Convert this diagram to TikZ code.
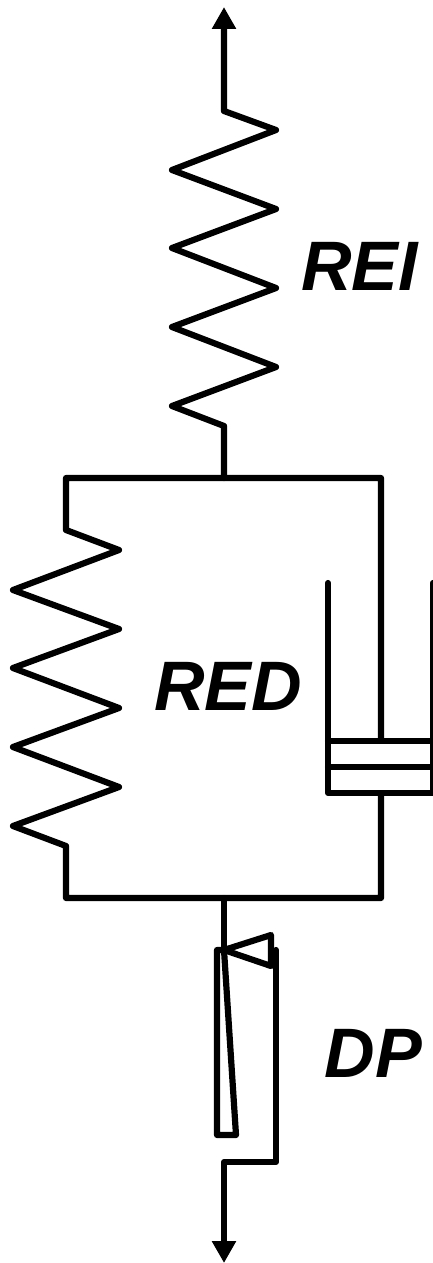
\documentclass[tikz,border=0pt]{standalone}
\usepackage{fontspec}
\setmainfont{Liberation Sans}
\usetikzlibrary{arrows.meta}
\begin{document}
\begin{tikzpicture}[line cap=round,line join=round,>={Triangle[length=22pt,width=23pt]},x=1pt,y=-1pt,line width=6.2pt,
  lbl/.style={anchor=base west,inner sep=0pt,font=\fontsize{70}{70}\selectfont\bfseries\itshape}]
\useasboundingbox (0,0) rectangle (433,1263);
\clip (0,0) rectangle (433,1263);
% upper spring
\draw [<-] (224,7)-- (224,111)-- (276,130)-- (172,170)-- (276,209)-- (172,248)-- (276,288)-- (172,327)-- (276,367)-- (172,406)-- (224,426)-- (224,478);
% parallel frame and lower spring
\draw (381,740)-- (381,478)-- (66,478)-- (66,530)-- (119,550)-- (13,590)-- (119,629)-- (13,668)-- (119,708)-- (13,747)-- (119,787)-- (13,826)-- (66,846)-- (66,898)-- (381,898)-- (381,795);
% dashpot
\draw (328,583)-- (328,793)-- (433,793)-- (433,583);
\draw (328,741)-- (433,741);
\draw (328,767)-- (433,767);
% plastic element
\draw (224,898)-- (224,950);
\draw (224,950)-- (271,935)-- (271,966)-- cycle;
\draw (224,950)-- (217,950)-- (217,1135)-- (236,1135)-- (224,950);
\draw [->] (276,950)-- (276,1162)-- (224,1162)-- (224,1263);
\node [lbl] (rei) at (298,290) {REI};
\node [lbl] (red) at (151,710) {RED};
\node [lbl] (dp) at (321.5,1077) {DP};
\end{tikzpicture}
\end{document}
